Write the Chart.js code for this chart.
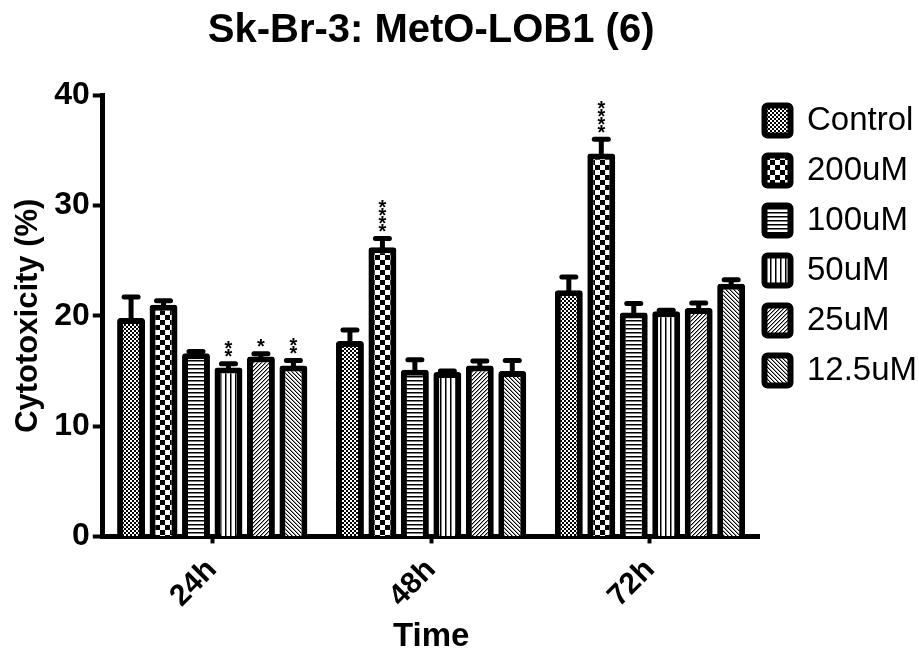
<!DOCTYPE html>
<html>
<head>
<meta charset="utf-8">
<title>Sk-Br-3: MetO-LOB1 (6)</title>
<script src="https://cdn.jsdelivr.net/npm/chart.js@4.4.1/dist/chart.umd.min.js"></script>
<style>
  html, body { margin: 0; padding: 0; background: #fff; }
  canvas { display: block; }
</style>
</head>
<body>
<canvas id="chart" width="919" height="655"></canvas>
<script>
// Time points and treatment groups
const timePoints = ['24h', '48h', '72h'];
const treatments = ['Control', '200uM', '100uM', '50uM', '25uM', '12.5uM'];

// Mean cytotoxicity (%) per treatment, one value per time point
const controlMean = [19.8, 17.7, 22.3];
const dose200Mean = [21.0, 26.2, 34.7];
const dose100Mean = [16.6, 15.1, 20.3];
const dose50Mean  = [15.3, 14.9, 20.4];
const dose25Mean  = [16.3, 15.5, 20.7];
const dose12Mean  = [15.5, 15.0, 22.9];

// Standard error of the mean
const controlSem = [1.9, 1.0, 1.2];
const dose200Sem = [0.35, 0.8, 1.3];
const dose100Sem = [0.15, 0.9, 0.8];
const dose50Sem  = [0.35, 0.1, 0.1];
const dose25Sem  = [0.25, 0.4, 0.45];
const dose12Sem  = [0.45, 0.95, 0.35];

// Significance marks vs control
const controlSig = ['', '', ''];
const dose200Sig = ['', '****', '****'];
const dose100Sig = ['', '', ''];
const dose50Sig  = ['**', '', ''];
const dose25Sig  = ['*', '', ''];
const dose12Sig  = ['**', '', ''];

// Y axis range
const yMin = 0, yMax = 40, yStep = 10;

const FONT = "'Liberation Sans', Arial, Helvetica, sans-serif";
Chart.defaults.font.family = FONT;
Chart.defaults.color = '#000';

// Monochrome hatch fills
function makePattern(kind) {
  const c = document.createElement('canvas');
  const g = c.getContext('2d');
  const set = (w, h) => { c.width = w; c.height = h; g.fillStyle = '#fff'; g.fillRect(0, 0, w, h); g.fillStyle = '#000'; };
  switch (kind) {
    case 'fine':
      set(4, 4);
      g.fillRect(0, 0, 2, 2); g.fillRect(2, 2, 2, 2);
      break;
    case 'checker':
      set(10, 10);
      g.fillRect(0, 0, 5, 5); g.fillRect(5, 5, 5, 5);
      break;
    case 'hlines':
      set(4, 4);
      g.fillRect(0, 0, 4, 1.5);
      break;
    case 'vlines':
      set(5, 5);
      g.fillRect(0, 0, 1.5, 5);
      break;
    case 'fwd':
      set(4, 4);
      for (let i = 0; i < 4; i++) g.fillRect(3 - i, i, 1, 1);
      g.fillStyle = '#999';
      for (let i = 0; i < 4; i++) g.fillRect((4 - i) % 4, i, 1, 1);
      break;
    case 'back':
      set(4, 4);
      for (let i = 0; i < 4; i++) g.fillRect(i, i, 1, 1);
      g.fillStyle = '#999';
      for (let i = 0; i < 4; i++) g.fillRect((i + 1) % 4, i, 1, 1);
      break;
  }
  return g.createPattern(c, 'repeat');
}

const fills = ['fine', 'checker', 'hlines', 'vlines', 'fwd', 'back'].map(makePattern);
const means = [controlMean, dose200Mean, dose100Mean, dose50Mean, dose25Mean, dose12Mean];
const sems = [controlSem, dose200Sem, dose100Sem, dose50Sem, dose25Sem, dose12Sem];
const sigs = [controlSig, dose200Sig, dose100Sig, dose50Sig, dose25Sig, dose12Sig];

const datasets = treatments.map((name, i) => ({
  label: name,
  data: means[i],
  sem: sems[i],
  sig: sigs[i],
  backgroundColor: fills[i],
  borderColor: '#000',
  borderWidth: 6,
  borderRadius: 3,
  barPercentage: 0.86,
  categoryPercentage: 0.89
}));

// SEM whiskers (upper half) and significance asterisks
const semBars = {
  id: 'semBars',
  afterDatasetsDraw(chart) {
    const { ctx, scales: { y } } = chart;
    ctx.save();
    ctx.strokeStyle = '#000';
    ctx.fillStyle = '#000';
    chart.data.datasets.forEach((ds, i) => {
      const meta = chart.getDatasetMeta(i);
      if (meta.hidden) return;
      meta.data.forEach((bar, j) => {
        const top = y.getPixelForValue(ds.data[j] + ds.sem[j]);
        ctx.lineWidth = 5;
        ctx.lineCap = 'butt';
        ctx.beginPath();
        ctx.moveTo(bar.x, bar.y + 3);
        ctx.lineTo(bar.x, top);
        ctx.stroke();
        ctx.lineCap = 'round';
        ctx.beginPath();
        ctx.moveTo(bar.x - 7, top);
        ctx.lineTo(bar.x + 7, top);
        ctx.stroke();
        const marks = ds.sig[j] || '';
        ctx.font = 'bold 20px ' + FONT;
        ctx.textAlign = 'center';
        ctx.textBaseline = 'alphabetic';
        for (let k = 0; k < marks.length; k++) {
          const cy = top - 12 - k * 8;
          ctx.fillText('*', bar.x, cy + 0.57 * 20);
        }
      });
    });
    ctx.restore();
  }
};

// Place the legend column beside the plot
const legendPlace = {
  id: 'legendPlace',
  afterLayout(chart) {
    const lg = chart.legend;
    if (!lg) return;
    const pad = lg.options.labels.padding;
    const dx = 764.5 - (lg.left + pad);
    const dy = 104 - (lg.top + pad);
    lg.left += dx; lg.right += dx;
    lg.top += dy; lg.bottom += dy;
  }
};

new Chart(document.getElementById('chart'), {
  type: 'bar',
  data: { labels: timePoints, datasets },
  plugins: [semBars, legendPlace],
  options: {
    responsive: false,
    animation: false,
    layout: { padding: { left: 1, right: -20, top: 0, bottom: 0 } },
    plugins: {
      title: {
        display: true,
        fullSize: false,
        text: 'Sk-Br-3: MetO-LOB1 (6)',
        font: { size: 40, weight: 'bold', lineHeight: 1.2 },
        color: '#000',
        padding: { top: 7, bottom: 40 }
      },
      legend: {
        position: 'right',
        align: 'start',
        labels: {
          boxWidth: 26,
          boxHeight: 30,
          padding: 17,
          useBorderRadius: true,
          borderRadius: 3,
          color: '#000',
          font: { size: 33 }
        }
      },
      tooltip: { enabled: false }
    },
    scales: {
      x: {
        grid: { display: true, drawOnChartArea: false, offset: false, tickLength: 7, tickWidth: 4, tickColor: '#000' },
        border: { display: true, color: '#000', width: 5 },
        ticks: { minRotation: 45, maxRotation: 45, padding: 11, color: '#000', font: { size: 30, weight: 'bold', lineHeight: 1.0 } },
        title: { display: true, text: 'Time', color: '#000', font: { size: 33, weight: 'bold', lineHeight: 0.6 }, padding: { top: 4, bottom: 8 } }
      },
      y: {
        min: yMin,
        max: yMax,
        ticks: { stepSize: yStep, padding: 3, color: '#000', font: { size: 32, weight: 'bold' } },
        grid: { display: true, drawOnChartArea: false, tickLength: 10, tickWidth: 4, tickColor: '#000' },
        border: { display: true, color: '#000', width: 5 },
        title: { display: true, text: 'Cytotoxicity (%)', color: '#000', font: { size: 31, weight: 'bold', lineHeight: 1.2 }, padding: { top: 9, bottom: 4 } }
      }
    }
  }
});
</script>
</body>
</html>
